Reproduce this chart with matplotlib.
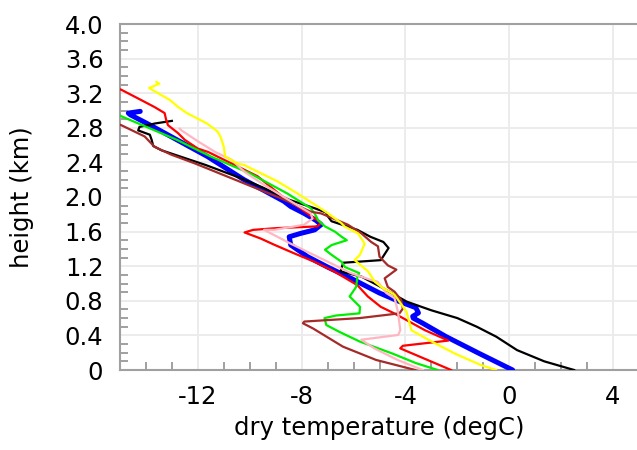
import matplotlib
matplotlib.use("Agg")
import matplotlib.pyplot as plt
import numpy as np
from matplotlib.ticker import MultipleLocator, FuncFormatter

plt.rcParams['font.family'] = ['DejaVu Sans']

black_T = [2.5, 1.35, 0.3, -0.5, -1.25, -2.0, -3.0, -3.95, -4.95, -5.7, -6.5, -6.4, -4.95, -4.65, -4.85,
           -5.35, -5.85, -6.85, -7.0, -7.05, -7.5, -8.5, -9.5, -10.45, -11.7, -12.5, -13.4, -13.72, -13.78,
           -13.85, -14.3, -14.25, -13.65, -13.0]
black_h = [0, 0.1, 0.23, 0.385, 0.5, 0.6, 0.69, 0.79, 0.96, 1.08, 1.14, 1.24, 1.27, 1.41, 1.48,
           1.54, 1.62, 1.72, 1.78, 1.82, 1.87, 1.97, 2.11, 2.23, 2.37, 2.45, 2.54, 2.59, 2.66,
           2.72, 2.77, 2.81, 2.85, 2.88]

blue_T = [0.13, -1.15, -2.43, -3.33, -3.7, -3.72, -3.5, -3.6, -4.3, -5.0, -6.1, -7.0, -7.77, -8.42, -8.48,
          -8.03, -7.5, -7.25, -7.45, -7.9, -8.42, -8.68, -10.22, -11.64, -12.8, -13.83, -14.6, -14.68, -14.22]
blue_h = [0, 0.19, 0.385, 0.54, 0.6, 0.62, 0.66, 0.72, 0.80, 0.89, 1.06, 1.19, 1.31, 1.445, 1.54,
          1.58, 1.62, 1.68, 1.73, 1.81, 1.89, 1.95, 2.20, 2.47, 2.66, 2.83, 2.95, 2.97, 2.99]

red_T = [-2.24, -4.2, -4.1, -2.35, -3.25, -4.4, -4.95, -5.45, -5.85, -6.75, -7.5, -8.3, -9.07, -9.58,
         -10.2, -9.87, -8.97, -7.4, -7.25, -8.15, -8.72, -9.7, -11.6, -12.0, -12.5, -12.77, -13.15, -13.22,
         -13.28, -13.67, -14.18, -14.95, -15.3]
red_h = [0, 0.25, 0.28, 0.34, 0.46, 0.65, 0.73, 0.85, 0.98, 1.14, 1.25, 1.35, 1.45, 1.52,
         1.59, 1.62, 1.64, 1.66, 1.70, 1.89, 2.0, 2.24, 2.52, 2.56, 2.66, 2.74, 2.83, 2.89,
         2.97, 3.04, 3.12, 3.24, 3.27]

green_T = [-2.76, -3.6, -4.5, -5.77, -6.54, -7.05, -7.12, -6.67, -5.77, -5.75, -6.15, -5.9, -5.85, -5.78,
           -6.33, -6.46, -6.84, -7.1, -6.84, -6.26, -6.46, -6.72, -7.1, -7.36, -7.5, -7.65, -8.55, -9.97,
           -11.52, -12.8, -15.0, -15.3]
green_h = [0, 0.08, 0.19, 0.33, 0.44, 0.52, 0.60, 0.63, 0.655, 0.73, 0.85, 0.96, 1.08, 1.12,
           1.19, 1.25, 1.33, 1.39, 1.445, 1.50, 1.54, 1.60, 1.66, 1.73, 1.81, 1.87, 2.04, 2.27,
           2.47, 2.66, 2.94, 2.97]

brown_T = [-3.62, -5.13, -6.41, -7.56, -7.95, -7.9, -5.77, -4.23, -4.1, -4.17, -4.42, -4.68, -4.8, -4.35,
           -4.68, -5.0, -5.06, -5.32, -5.7, -6.22, -7.25, -7.65, -8.68, -9.58, -12.13, -13.03, -13.67,
           -14.05, -14.95, -15.3]
brown_h = [0, 0.116, 0.27, 0.48, 0.54, 0.56, 0.60, 0.655, 0.71, 0.81, 0.905, 0.96, 1.06, 1.16,
           1.21, 1.31, 1.43, 1.48, 1.58, 1.68, 1.81, 1.83, 1.97, 2.08, 2.39, 2.49, 2.58,
           2.70, 2.83, 2.86]

pink_T = [-3.33, -4.3, -5.2, -5.7, -4.28, -4.2, -4.28, -4.35, -4.42, -4.74, -5.07, -5.32, -6.1, -7.12,
          -8.42, -9.45, -9.05, -7.9, -7.58, -7.65, -9.45, -10.2, -10.7, -11.33, -11.98, -12.63, -12.7]
pink_h = [0, 0.116, 0.25, 0.35, 0.405, 0.46, 0.655, 0.75, 0.83, 0.89, 1.02, 1.04, 1.12, 1.27,
          1.46, 1.62, 1.62, 1.68, 1.75, 1.81, 2.14, 2.29, 2.43, 2.52, 2.64, 2.77, 2.79]

yellow_T = [-0.51, -1.1, -2.1, -3.12, -3.77, -3.96, -4.42, -4.93, -5.18, -5.44, -5.96, -5.76, -5.57,
            -5.83, -6.35, -6.48, -6.98, -7.38, -8.16, -8.93, -10.22, -10.5, -10.95, -11.0, -11.13,
            -11.25, -11.65, -12.42, -12.76, -13.07, -13.88, -13.48, -13.6]
yellow_h = [0, 0.058, 0.19, 0.35, 0.46, 0.675, 0.87, 0.96, 1.02, 1.14, 1.27, 1.33, 1.46,
            1.58, 1.66, 1.70, 1.81, 1.89, 2.04, 2.18, 2.37, 2.39, 2.47, 2.58, 2.70,
            2.76, 2.85, 2.97, 3.04, 3.12, 3.26, 3.31, 3.33]

x_min, x_max = -15, 5
y_min, y_max = 0, 4.0

fig = plt.figure(figsize=(6.37, 4.5), dpi=100)
ax = fig.add_axes([120/637, 80/450, 519/637, 346/450])

ax.plot(blue_T, blue_h, color='#0000ff', lw=3.6, zorder=3, solid_capstyle='round')
ax.plot(black_T, black_h, color='black', lw=1.6, zorder=4)
ax.plot(red_T, red_h, color='#ff0000', lw=1.6, zorder=4)
ax.plot(green_T, green_h, color='#00ee00', lw=1.6, zorder=4)
ax.plot(brown_T, brown_h, color='#a52a2a', lw=1.6, zorder=4)
ax.plot(pink_T, pink_h, color='#ffb6c1', lw=1.6, zorder=4)
ax.plot(yellow_T, yellow_h, color='#ffff00', lw=1.6, zorder=5)

ax.set_xlim(x_min, x_max)
ax.set_ylim(y_min, y_max)
ax.xaxis.set_major_locator(MultipleLocator(4))
ax.yaxis.set_major_locator(MultipleLocator(0.4))
ax.xaxis.set_minor_locator(MultipleLocator(1))
ax.yaxis.set_minor_locator(MultipleLocator(0.1))
ax.yaxis.set_major_formatter(FuncFormatter(lambda v, p: '0' if abs(v) < 1e-9 else f'{v:.1f}'))
ax.xaxis.set_major_formatter(FuncFormatter(lambda v, p: f'{v:.0f}'))

ax.grid(True, which='major', color='#ebebeb', lw=1.3, zorder=0)
ax.set_axisbelow(True)
ax.tick_params(which='major', length=0, labelsize=17.5)
ax.tick_params(axis='x', which='major', pad=11)
ax.tick_params(axis='y', which='major', pad=12)
ax.tick_params(which='minor', direction='in', length=6, width=1.2, color='#909090',
               top=False, right=False)
for s in ['left', 'bottom', 'top', 'right']:
    ax.spines[s].set_color('#a0a0a0')
    ax.spines[s].set_linewidth(1.5)

ax.set_xlabel('dry temperature (degC)', fontsize=17.5)
ax.set_ylabel('height (km)', fontsize=17.5)
ax.xaxis.set_label_coords((379 - 120) / 519, -(428 - 370) / 346)
ax.xaxis.label.set_va('center')
ax.yaxis.set_label_coords((22 - 120) / 519, (370 - 197) / 346)
ax.yaxis.label.set_va('center')

fig.savefig('out.png', dpi=100)
